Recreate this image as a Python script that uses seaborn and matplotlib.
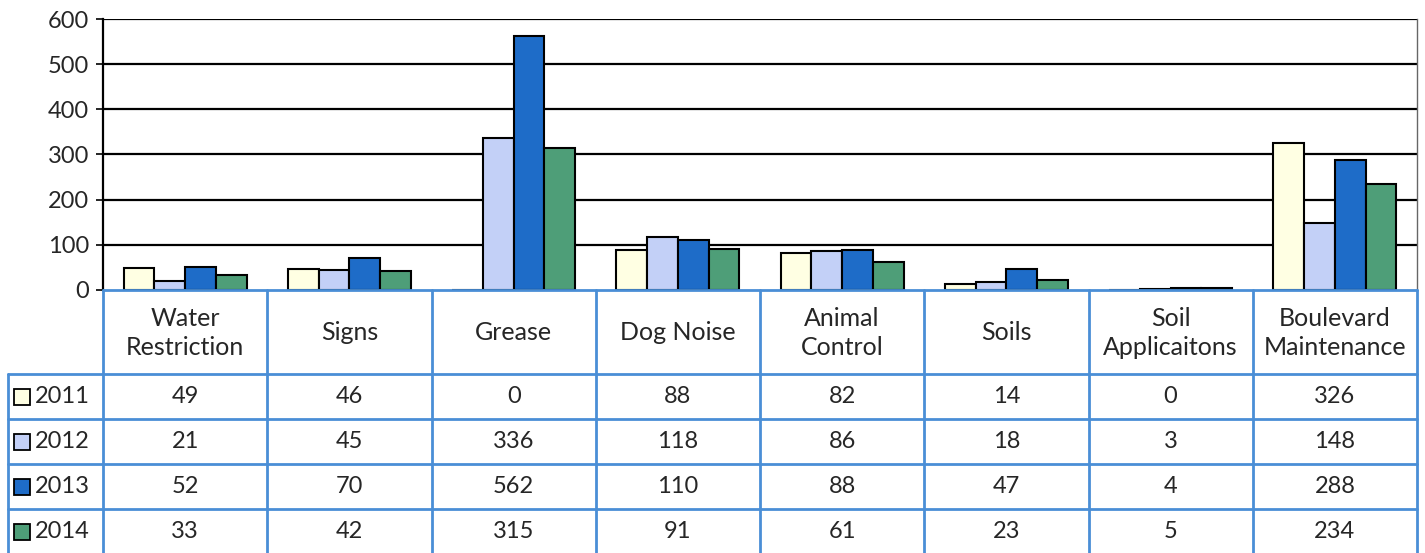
import matplotlib
matplotlib.use("Agg")
import matplotlib.pyplot as plt
import seaborn as sns
import pandas as pd
from matplotlib.patches import Rectangle

categories = ["Water\nRestriction", "Signs", "Grease", "Dog Noise", "Animal\nControl",
              "Soils", "Soil\nApplicaitons", "Boulevard\nMaintenance"]
years = ["2011", "2012", "2013", "2014"]
v2011 = [49, 46, 0, 88, 82, 14, 0, 326]
v2012 = [21, 45, 336, 118, 86, 18, 3, 148]
v2013 = [52, 70, 562, 110, 88, 47, 4, 288]
v2014 = [33, 42, 315, 91, 61, 23, 5, 234]
yticks = [0, 100, 200, 300, 400, 500, 600]

colors = ["#FFFFE3", "#C3D0F7", "#1E6CC8", "#4E9E78"]
table_blue = "#4A8ED6"
text_col = "#262626"
fs = 17
fs_head = 18

series = [v2011, v2012, v2013, v2014]
rows = []
for y, vals in zip(years, series):
    for c, v in zip(categories, vals):
        rows.append({"Category": c, "Year": y, "Count": v})
df = pd.DataFrame(rows)

sns.set_theme(style="white")
plt.rcParams["font.family"] = ["Lato", "DejaVu Sans"]

W, H = 1425, 553
fig = plt.figure(figsize=(W / 100, H / 100), dpi=100)
left_px, right_px, top_px, zero_px = 103, 1417, 19, 290
ax = fig.add_axes([left_px / W, 1 - zero_px / H, (right_px - left_px) / W, (zero_px - top_px) / H])

sns.barplot(data=df, x="Category", y="Count", hue="Year", order=categories,
            hue_order=years, palette=colors, width=0.75, edgecolor="black",
            linewidth=1.5, ax=ax, legend=False, zorder=3, saturation=1)

ax.set_ylim(0, 600)
ax.set_xlim(-0.5, len(categories) - 0.5)
ax.set_yticks(yticks)
ax.set_yticklabels([str(t) for t in yticks], fontsize=fs, color=text_col)
ax.set_xticks([])
ax.set_xlabel("")
ax.set_ylabel("")
for t in yticks[1:]:
    ax.axhline(t, color="black", lw=1.6, zorder=1)
ax.tick_params(axis="y", length=5, width=1.2, color="black", left=True, pad=5)
for s in ["top", "bottom"]:
    ax.spines[s].set_visible(False)
ax.spines["left"].set_color("black")
ax.spines["left"].set_linewidth(1.6)
ax.spines["right"].set_color("#666666")
ax.spines["right"].set_linewidth(1.0)

# data table below
tax = fig.add_axes([left_px / W, 0, (right_px - left_px) / W, (H - zero_px) / H])
tax.set_xlim(-0.5, len(categories) - 0.5)
tax.set_ylim(H - zero_px, 0)
tax.axis("off")
colw = (right_px - left_px) / len(categories)
leg_left = -0.5 - (left_px - 8) / colw
header_h = 84
row_h = 45
lw = 2.0
for i in range(len(categories) + 1):
    tax.plot([-0.5 + i, -0.5 + i], [0, H], color=table_blue, lw=lw, clip_on=False)
tax.plot([leg_left, leg_left], [header_h, H], color=table_blue, lw=lw, clip_on=False)
tax.plot([-0.5, len(categories) - 0.5], [0, 0], color=table_blue, lw=lw, clip_on=False)
for r in range(len(years) + 1):
    y = header_h + r * row_h
    tax.plot([leg_left, len(categories) - 0.5], [y, y], color=table_blue, lw=lw, clip_on=False)

for i, c in enumerate(categories):
    tax.text(i, header_h / 2 + 1, c, ha="center", va="center", fontsize=fs_head,
             color=text_col, linespacing=1.3)
for r, (y, vals, col) in enumerate(zip(years, series, colors)):
    yc = header_h + r * row_h + row_h / 2
    for i, v in enumerate(vals):
        tax.text(i, yc, str(v), ha="center", va="center", fontsize=fs, color=text_col)
    tax.add_patch(Rectangle((leg_left + 6 / colw, yc - 8), 16 / colw, 16,
                            facecolor=col, edgecolor="black", lw=1.3, clip_on=False))
    tax.text(leg_left + 27 / colw, yc, y, ha="left", va="center", fontsize=fs, color=text_col)

fig.savefig("out.png", dpi=100, facecolor="white")
